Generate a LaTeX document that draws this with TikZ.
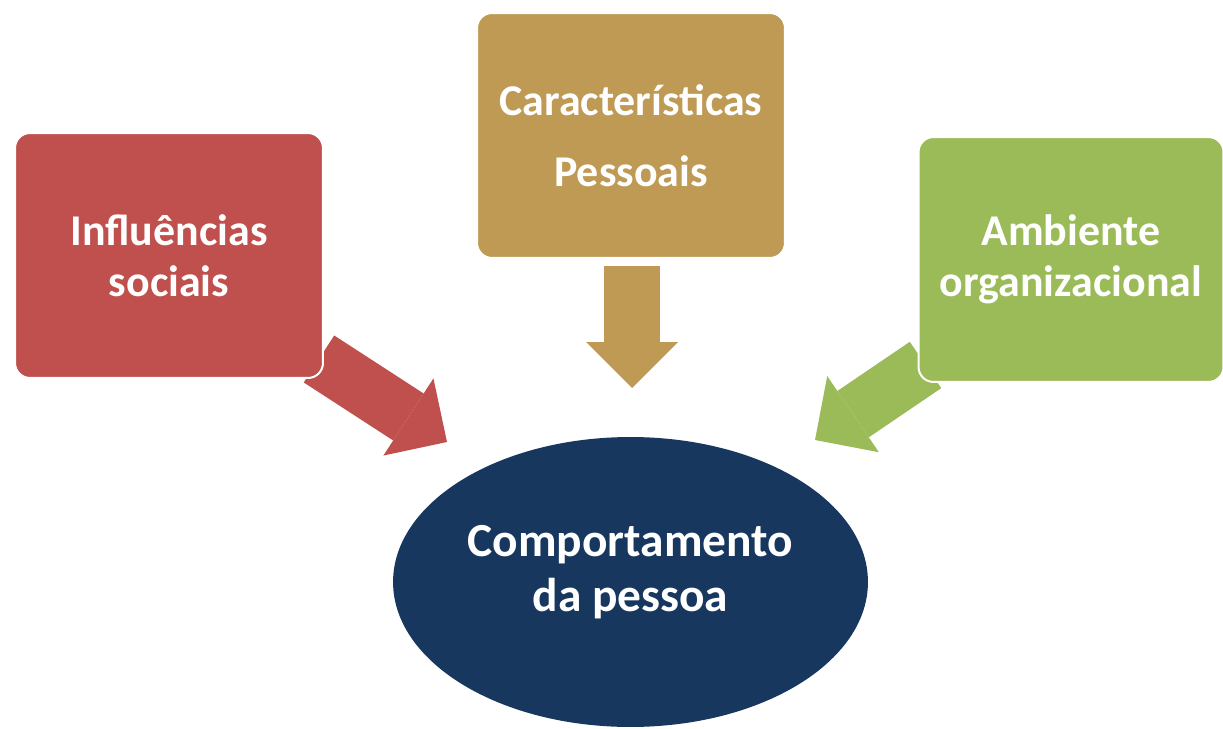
\documentclass[tikz,border=0pt]{standalone}
\usepackage{fontspec}
\setmainfont{Carlito}
\usetikzlibrary{shapes.geometric,arrows.meta,backgrounds}
\definecolor{boxred}{HTML}{C0504D}
\definecolor{boxtan}{HTML}{BF9A55}
\definecolor{boxgreen}{HTML}{9BBB59}
\definecolor{navy}{HTML}{17375E}

\begin{document}
\begin{tikzpicture}[x=0.02cm, y=-0.02cm,
    factor/.style={rectangle, rounded corners=0.3cm, draw=white, line width=0.04cm, minimum width=6.16cm, minimum height=4.9cm, align=center, text=white, font=\fontsize{25}{29}\selectfont\bfseries},
    bigarrow/.style={line width=1.12cm, -{Triangle[width=1.84cm, length=0.92cm, line width=0pt]}}]
    \useasboundingbox (0,0) rectangle (1223,729);

    % Factors
    \node[factor, fill=boxred] (soc) at (169,255.5) {Influências\\sociais};
    \node[factor, fill=boxtan] (pes) at (631,135.5) {Características\\[0.4cm]Pessoais};
    \node[factor, fill=boxgreen, minimum width=6.1cm] (amb) at (1071,259.5) {Ambiente\\organizacional};

    % Behaviour
    \node[ellipse, fill=navy, minimum width=9.5cm, minimum height=5.8cm, inner sep=0pt, align=center, text=white, font=\fontsize{27}{31}\selectfont\bfseries] (comp) at (630.5,582) {Comportamento\\da pessoa\rule[-0.55cm]{0pt}{0.1pt}};

    % Arrow tips
    \coordinate (rtip) at (447,442);
    \coordinate (ptip) at (632,388);
    \coordinate (atip) at (815,440);

    % Arrows
    \begin{pgfonlayer}{background}
        \draw[bigarrow, boxred] ([shift={(-5,-20)}]soc.south east) -- (rtip);
        \draw[bigarrow, boxtan] ([shift={(1,7)}]pes.south) -- (ptip);
        \draw[bigarrow, boxgreen] ([shift={(8,-18)}]amb.south west) -- (atip);
    \end{pgfonlayer}
\end{tikzpicture}
\end{document}
